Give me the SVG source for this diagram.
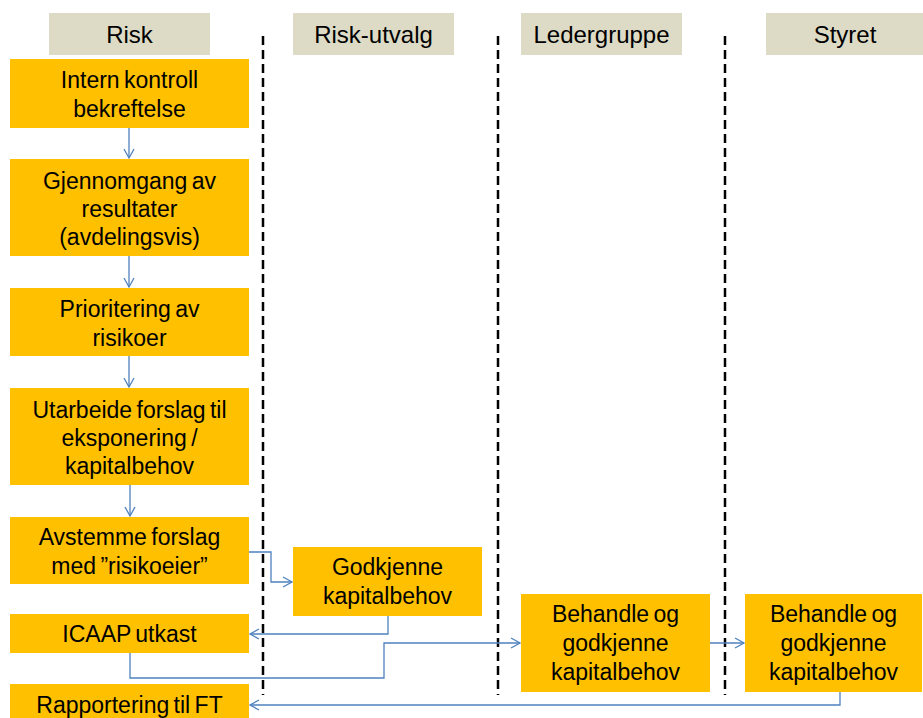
<svg xmlns="http://www.w3.org/2000/svg" width="923" height="718" viewBox="0 0 923 718">
<style>
.hdr{fill:#DDDBC5}
.box{fill:#FFC000}
.ht{font-family:"Liberation Sans",Arial,sans-serif;font-size:24px;fill:#000;text-anchor:middle}
.t{font-family:"Liberation Sans",Arial,sans-serif;font-size:23px;fill:#000;text-anchor:middle;word-spacing:-2px}
.dash{stroke:#000;stroke-width:2.5;stroke-dasharray:9 5;fill:none}
.c{stroke:#4F81BD;stroke-width:1.3;fill:none}
</style>
<defs>
<marker id="ar" markerWidth="12" markerHeight="12" refX="10" refY="6" orient="auto" markerUnits="userSpaceOnUse">
<path d="M1,1 L10,6 L1,11" fill="none" stroke="#4F81BD" stroke-width="1.3"/>
</marker>
</defs>
<rect width="923" height="718" fill="#fff"/>
<g id="lanes">
<g id="h-risk"><rect class="hdr" x="49" y="13" width="161" height="42"/><text class="ht" x="129.5" y="43">Risk</text></g>
<g id="h-utvalg"><rect class="hdr" x="293" y="13" width="161" height="42"/><text class="ht" x="373.5" y="43">Risk-utvalg</text></g>
<g id="h-leder"><rect class="hdr" x="521" y="13" width="161" height="42"/><text class="ht" x="601.5" y="43">Ledergruppe</text></g>
<g id="h-styret"><rect class="hdr" x="766" y="13" width="157" height="42"/><text class="ht" x="845" y="43">Styret</text></g>
<line class="dash" x1="263" y1="36" x2="263" y2="695"/>
<line class="dash" x1="498" y1="36" x2="498" y2="695"/>
<line class="dash" x1="725" y1="36" x2="725" y2="695"/>
</g>
<g id="connectors">
<path class="c" d="M129,128 V158" marker-end="url(#ar)"/>
<path class="c" d="M129,256 V287" marker-end="url(#ar)"/>
<path class="c" d="M129,356 V387" marker-end="url(#ar)"/>
<path class="c" d="M130,485 V516" marker-end="url(#ar)"/>
<path class="c" d="M249,552 H271 V582 H292" marker-end="url(#ar)"/>
<path class="c" d="M388,616 V634 H250" marker-end="url(#ar)"/>
<path class="c" d="M130,653 V678 H384 V643 H520" marker-end="url(#ar)"/>
<path class="c" d="M710,643 H744" marker-end="url(#ar)"/>
<path class="c" d="M840,692 V705 H250" marker-end="url(#ar)"/>
</g>
<g id="n1"><rect class="box" x="10" y="59" width="239" height="69"/><text class="t" x="129.5" y="88">Intern kontroll</text><text class="t" x="129.5" y="117">bekreftelse</text></g>
<g id="n2"><rect class="box" x="10" y="159" width="239" height="97"/><text class="t" x="129.5" y="189">Gjennomgang av</text><text class="t" x="129.5" y="217">resultater</text><text class="t" x="129.5" y="245">(avdelingsvis)</text></g>
<g id="n3"><rect class="box" x="10" y="288" width="239" height="68"/><text class="t" x="129.5" y="317">Prioritering av</text><text class="t" x="129.5" y="346">risikoer</text></g>
<g id="n4"><rect class="box" x="10" y="388" width="239" height="97"/><text class="t" x="129.5" y="418">Utarbeide forslag til</text><text class="t" x="129.5" y="446">eksponering /</text><text class="t" x="129.5" y="474">kapitalbehov</text></g>
<g id="n5"><rect class="box" x="10" y="517" width="239" height="67"/><text class="t" x="129.5" y="545">Avstemme forslag</text><text class="t" x="129.5" y="574">med ”risikoeier”</text></g>
<g id="n6"><rect class="box" x="10" y="614" width="239" height="39"/><text class="t" x="129.5" y="642">ICAAP utkast</text></g>
<g id="n7"><rect class="box" x="10" y="684" width="239" height="34"/><text class="t" x="129.5" y="713">Rapportering til FT</text></g>
<g id="n8"><rect class="box" x="293" y="547" width="189" height="69"/><text class="t" x="387.5" y="575">Godkjenne</text><text class="t" x="387.5" y="604">kapitalbehov</text></g>
<g id="n9"><rect class="box" x="521" y="594" width="189" height="98"/><text class="t" x="615.5" y="622">Behandle og</text><text class="t" x="615.5" y="651">godkjenne</text><text class="t" x="615.5" y="680">kapitalbehov</text></g>
<g id="n10"><rect class="box" x="745" y="594" width="177" height="98"/><text class="t" x="833.5" y="622">Behandle og</text><text class="t" x="833.5" y="651">godkjenne</text><text class="t" x="833.5" y="680">kapitalbehov</text></g>
</svg>
